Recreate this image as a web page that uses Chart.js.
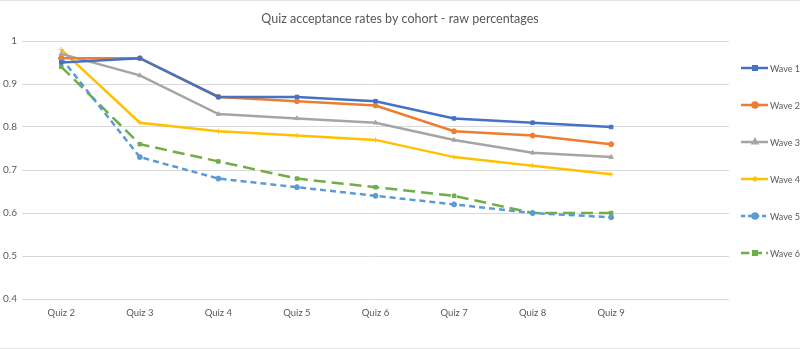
<!DOCTYPE html>
<html>
<head>
<meta charset="utf-8">
<script src="https://cdn.jsdelivr.net/npm/chart.js@4.4.0/dist/chart.umd.min.js"></script>
<style>
    html, body { margin: 0; padding: 0; background: #fff; }
    #wrap { position: relative; width: 800px; height: 349px; box-sizing: border-box; border-top: 1px solid #e4e4e4; border-bottom: 1px solid #e4e4e4; }
    canvas { display: block; }
</style>
</head>
<body>
<div id="wrap"><canvas id="quiz-chart"></canvas></div>
<script>
const quiz_labels = ["Quiz 2", "Quiz 3", "Quiz 4", "Quiz 5", "Quiz 6", "Quiz 7", "Quiz 8", "Quiz 9", ""];
const wave_names = ["Wave 1", "Wave 2", "Wave 3", "Wave 4", "Wave 5", "Wave 6"];

const wave_1 = [0.95, 0.96, 0.87, 0.87, 0.86, 0.82, 0.81, 0.80];
const wave_2 = [0.96, 0.96, 0.87, 0.86, 0.85, 0.79, 0.78, 0.76];
const wave_3 = [0.97, 0.92, 0.83, 0.82, 0.81, 0.77, 0.74, 0.73];
const wave_4 = [0.98, 0.81, 0.79, 0.78, 0.77, 0.73, 0.71, 0.69];
const wave_5 = [0.96, 0.73, 0.68, 0.66, 0.64, 0.62, 0.60, 0.59];
const wave_6 = [0.94, 0.76, 0.72, 0.68, 0.66, 0.64, 0.60, 0.60];

const y_ticks = [0.4, 0.5, 0.6, 0.7, 0.8, 0.9, 1];

const wave_values = [wave_1, wave_2, wave_3, wave_4, wave_5, wave_6];
const wave_colors = ["#4472C4", "#ED7D31", "#A5A5A5", "#FFC000", "#5B9BD5", "#70AD47"];
const wave_markers = ["rect", "circle", "triangle", "cross", "circle", "rect"];
const wave_dashes = [[], [], [], [], [6, 4], [12, 6]];

const text_color = "#595959";
const font_family = "Lato, 'Open Sans', sans-serif";

// excel style legend: short line with the marker in the middle, one item under the other
const legend_top = 67;
const legend_step = 37;

const excel_legend = {
    id: "excel_legend",
    afterDraw(chart) {
        const ctx = chart.ctx;
        const x = chart.chartArea.right + 12;
        ctx.save();
        chart.data.datasets.forEach((ds, i) => {
            const y = legend_top + i * legend_step;
            ctx.strokeStyle = ds.borderColor;
            ctx.fillStyle = ds.borderColor;
            ctx.lineWidth = 2.5;
            ctx.setLineDash(ds.borderDash.map(d => d * 0.7));
            ctx.beginPath();
            ctx.moveTo(x, y);
            ctx.lineTo(x + 27, y);
            ctx.stroke();
            ctx.setLineDash([]);
            Chart.helpers.drawPoint(ctx, { pointStyle: ds.pointStyle, radius: 2.5, borderWidth: 1, rotation: 0 }, x + 14, y);

            ctx.fillStyle = text_color;
            ctx.font = "9px " + font_family;
            ctx.textBaseline = "middle";
            ctx.textAlign = "left";
            ctx.fillText(ds.label, x + 29, y + 1);
        });
        ctx.restore();
    }
};

const datasets = wave_values.map((values, i) => ({
    label: wave_names[i],
    data: values,
    borderColor: wave_colors[i],
    backgroundColor: wave_colors[i],
    borderWidth: 2.5,
    borderDash: wave_dashes[i],
    pointStyle: wave_markers[i],
    pointRadius: 2.5,
    pointBorderWidth: 1,
    pointBackgroundColor: wave_colors[i],
    pointBorderColor: wave_colors[i],
    tension: 0
}));

onload = () => {
    new Chart(document.getElementById("quiz-chart"), {
        type: "line",
        data: { labels: quiz_labels, datasets: datasets },
        plugins: [excel_legend],
        options: {
            responsive: true,
            maintainAspectRatio: false,
            animation: false,
            layout: { padding: 0 },
            scales: {
                x: {
                    offset: true,
                    grid: { display: false, drawTicks: false },
                    border: { display: false },
                    ticks: { color: text_color, font: { family: font_family, size: 9.5 }, padding: 8, maxRotation: 0, autoSkip: false },
                    afterFit: scale => { scale.height = 49; }
                },
                y: {
                    min: 0.4,
                    max: 1,
                    afterBuildTicks: scale => { scale.ticks = y_ticks.map(v => ({ value: v })); },
                    grid: { color: "#d9d9d9", lineWidth: 1, drawTicks: false },
                    border: { display: false },
                    ticks: {
                        color: text_color,
                        font: { family: font_family, size: 10 },
                        padding: 5,
                        callback: v => String(+v.toFixed(1))
                    },
                    afterFit: scale => { scale.width = 22; }
                },
                // empty right side scale, only keeps room for the legend so the title stays centred on the page
                legend_room: {
                    type: "linear",
                    position: "right",
                    grid: { display: false, drawTicks: false },
                    border: { display: false },
                    ticks: { display: false },
                    afterFit: scale => { scale.width = 71; }
                }
            },
            plugins: {
                title: {
                    display: true,
                    text: "Quiz acceptance rates by cohort - raw percentages",
                    color: text_color,
                    font: { family: font_family, size: 12.5, weight: "normal" },
                    padding: { top: 10, bottom: 15 }
                },
                legend: { display: false },
                tooltip: { enabled: false }
            }
        }
    });
};
</script>
</body>
</html>
